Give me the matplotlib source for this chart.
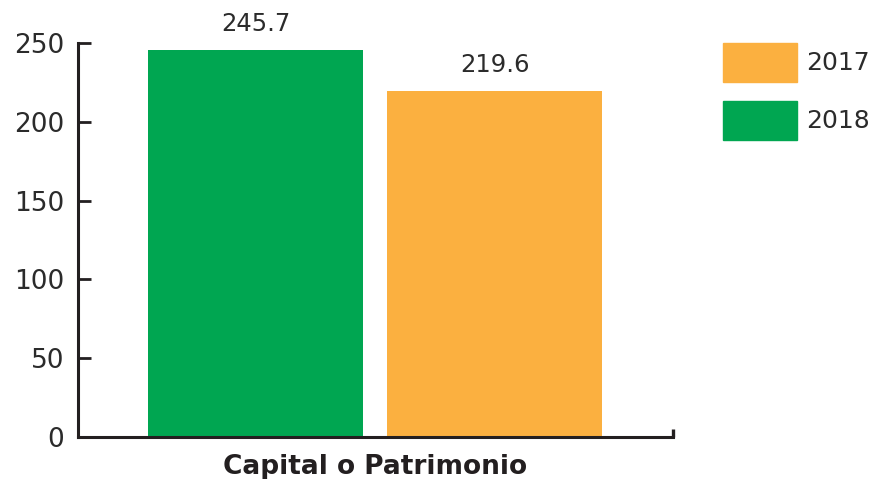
import matplotlib
matplotlib.use("Agg")
import matplotlib.pyplot as plt
from matplotlib.patches import Rectangle

category = "Capital o Patrimonio"
years = ["2018", "2017"]
values = [245.7, 219.6]
colors = {"2018": "#00A651", "2017": "#FBB040"}
legend_order = ["2017", "2018"]
yticks = [0, 50, 100, 150, 200, 250]

plt.rcParams['font.family'] = ['DejaVu Sans']
dark = "#231F20"
text_c = "#2B2B2B"

W, H = 875, 479
fig = plt.figure(figsize=(W / 100, H / 100), dpi=100)
ax = fig.add_axes([78 / W, (H - 437) / H, (673 - 78) / W, (437 - 43) / H])

pos = [0, 1]
bars = ax.bar(pos, values, width=0.9, color=[colors[y] for y in years], zorder=1)
ax.bar_label(bars, labels=[f"{v:.1f}" for v in values], padding=10,
             fontsize=17.5, color=text_c)

ax.set_ylim(0, 250)
ax.set_xlim(-0.743, 1.747)
ax.set_yticks(yticks)
ax.set_yticklabels([str(t) for t in yticks])
ax.tick_params(axis='y', direction='in', length=9.5, width=2, color=dark,
               labelsize=19, labelcolor=text_c, pad=10)
ax.set_xticks([1.747])
ax.set_xticklabels([""])
ax.tick_params(axis='x', direction='in', length=6, width=2.4, color=dark)

for s in ["top", "right"]:
    ax.spines[s].set_visible(False)
for s in ["left", "bottom"]:
    ax.spines[s].set_color(dark)
    ax.spines[s].set_linewidth(2.2)

ax.set_xlabel(category, fontsize=19, fontweight='bold', color=dark, labelpad=9)

# legend
legend_y = {"2017": 43, "2018": 101}
for y in legend_order:
    top = legend_y[y]
    fig.add_artist(Rectangle((723 / W, (H - top - 39) / H), 74 / W, 39 / H,
                             transform=fig.transFigure, color=colors[y]))
    fig.text(806 / W, (H - top - 20) / H, y, fontsize=18, color=text_c,
             va='center', ha='left')

fig.savefig("out.png", dpi=100)
